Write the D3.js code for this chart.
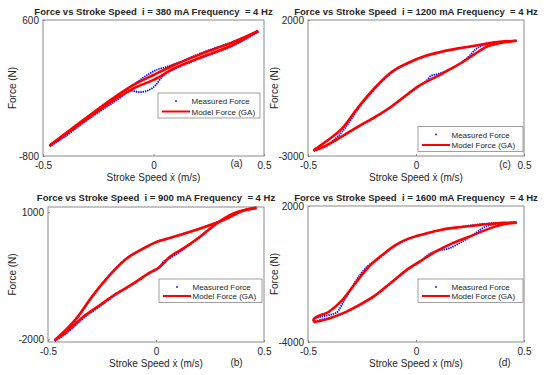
<!DOCTYPE html>
<html>
<head>
<meta charset="utf-8">
<script src="https://cdn.jsdelivr.net/npm/d3@7"></script>
<style>
  body { margin: 0; background: #fff; }
  text { font-family: "Liberation Sans", Arial, sans-serif; fill: #262626; }
</style>
</head>
<body>
<svg id="chart" width="550" height="375"></svg>
<script>
// panel order: (a) 380 mA, (b) 900 mA, (c) 1200 mA, (d) 1600 mA
const currents = ['380', '900', '1200', '1600'];
const panelTags = ['(a)', '(b)', '(c)', '(d)'];
const seriesNames = ['Measured Force', 'Model Force (GA)'];
const speedTicks = [-0.5, 0, 0.5];
const forceTicks = [[-800, 600], [-2000, 1000], [-3000, 2000], [-4000, 2000]];
const forceLimits = [[-800, 600], [-2065, 1120], [-3000, 2000], [-4000, 2000]];

// [speed m/s, force N]
const modelUpA = [[-0.47,-693],[-0.318,-430],[-0.167,-180],[-0.09,-69],[0,34],[0.094,137],[0.215,250],[0.366,377],[0.474,487]];
const modelLowA = [[-0.47,-693],[-0.318,-446],[-0.167,-206],[-0.09,-103],[0,-17],[0.094,103],[0.215,216],[0.366,350],[0.474,487]];
const measUpA = [[-0.47,-700],[-0.4,-590],[-0.318,-440],[-0.167,-190],[-0.09,-65],[-0.03,30],[0.015,88],[0.05,112],[0.094,145],[0.215,258],[0.366,382],[0.474,480]];
const measLowA = [[-0.47,-700],[-0.4,-600],[-0.318,-458],[-0.167,-228],[-0.1,-130],[-0.06,-142],[-0.02,-120],[0.01,-70],[0.037,10],[0.07,70],[0.094,95],[0.215,208],[0.366,343],[0.474,480]];

const modelUpB = [[-0.469,-2025],[-0.369,-1514],[-0.292,-964],[-0.215,-493],[-0.137,-100],[-0.06,136],[0.002,293],[0.079,411],[0.202,607],[0.326,843],[0.403,1030],[0.465,1100]];
const modelLowB = [[-0.469,-2025],[-0.415,-1829],[-0.338,-1475],[-0.261,-1200],[-0.184,-925],[-0.106,-689],[-0.029,-430],[0.017,-296],[0.063,-61],[0.125,136],[0.202,411],[0.279,725],[0.356,961],[0.465,1100]];
const measUpB = [[-0.469,-2040],[-0.369,-1530],[-0.292,-975],[-0.215,-480],[-0.137,-90],[-0.06,140],[0.002,300],[0.079,418],[0.202,612],[0.326,850],[0.403,1035],[0.465,1095]];
const measLowB = [[-0.469,-2040],[-0.415,-1860],[-0.338,-1510],[-0.261,-1225],[-0.184,-945],[-0.106,-700],[-0.029,-440],[0.01,-330],[0.035,-170],[0.063,-90],[0.09,-10],[0.125,120],[0.202,400],[0.279,715],[0.356,955],[0.465,1095]];

const modelUpC = [[-0.474,-2791],[-0.42,-2484],[-0.343,-1993],[-0.266,-1194],[-0.189,-482],[-0.112,96],[-0.035,428],[0.042,673],[0.118,833],[0.195,956],[0.272,1054],[0.349,1165],[0.465,1238]];
const modelLowC = [[-0.474,-2791],[-0.42,-2631],[-0.343,-2275],[-0.266,-1907],[-0.189,-1563],[-0.112,-1170],[-0.035,-703],[0.011,-432],[0.088,-113],[0.149,157],[0.211,428],[0.272,747],[0.334,1042],[0.395,1165],[0.465,1238]];
const measUpC = [[-0.474,-2800],[-0.43,-2690],[-0.39,-2480],[-0.343,-2120],[-0.3,-1650],[-0.266,-1250],[-0.189,-520],[-0.112,60],[-0.035,410],[0.042,665],[0.118,828],[0.195,950],[0.272,1050],[0.349,1160],[0.465,1230]];
const measLowC = [[-0.474,-2800],[-0.42,-2640],[-0.343,-2290],[-0.266,-1925],[-0.189,-1580],[-0.112,-1185],[-0.035,-720],[0.011,-450],[0.05,-220],[0.07,-50],[0.1,10],[0.149,150],[0.211,440],[0.25,700],[0.272,894],[0.303,1042],[0.334,1115],[0.395,1180],[0.465,1230]];

const modelUpD = [[-0.476,-3030],[-0.47,-2950],[-0.405,-2676],[-0.343,-2162],[-0.282,-1426],[-0.22,-691],[-0.158,-176],[-0.097,265],[-0.035,559],[0.042,779],[0.118,956],[0.211,1074],[0.303,1176],[0.395,1250],[0.465,1265]];
const modelLowD = [[-0.476,-3030],[-0.47,-3110],[-0.405,-2971],[-0.343,-2750],[-0.266,-2382],[-0.189,-1941],[-0.112,-1353],[-0.035,-765],[0.026,-397],[0.088,-29],[0.165,338],[0.242,632],[0.318,926],[0.395,1176],[0.465,1265]];
const measUpD = [[-0.476,-3030],[-0.47,-2980],[-0.42,-2850],[-0.366,-2690],[-0.34,-2300],[-0.3,-1650],[-0.26,-1050],[-0.22,-620],[-0.18,-380],[-0.14,-50],[-0.097,240],[-0.035,550],[0.042,770],[0.118,950],[0.211,1085],[0.303,1200],[0.395,1262],[0.465,1270]];
const measLowD = [[-0.476,-3030],[-0.47,-3090],[-0.44,-3020],[-0.405,-2950],[-0.343,-2760],[-0.266,-2400],[-0.189,-1960],[-0.112,-1370],[-0.035,-780],[0.026,-400],[0.057,-150],[0.103,29],[0.149,118],[0.211,412],[0.272,779],[0.318,1074],[0.365,1190],[0.465,1270]];

const modelUp = [modelUpA, modelUpB, modelUpC, modelUpD];
const modelLow = [modelLowA, modelLowB, modelLowC, modelLowD];
const measUp = [measUpA, measUpB, measUpC, measUpD];
const measLow = [measLowA, measLowB, measLowC, measLowD];

// plot boxes and decorations, in pixels
const layout = [
  { x0: 43, x1: 264, y0: 20, y1: 156, titleY: 14.5, yLab: 12, leg: [158, 93, 102, 25], tag: [236.5, 163] },
  { x0: 48, x1: 264, y0: 207, y1: 342, titleY: 200.5, yLab: 12, leg: [159, 279, 103, 23.5], tag: [236.5, 362] },
  { x0: 308, x1: 524, y0: 20, y1: 156, titleY: 14.5, yLab: 274, leg: [418, 126.5, 105, 25], tag: [505, 164] },
  { x0: 308, x1: 524, y0: 206, y1: 342, titleY: 200.5, yLab: 274, leg: [418, 279, 105, 23.5], tag: [504.5, 362.5] }
];

const svg = d3.select('#chart');
const axisGray = '#8a8a8a';

layout.forEach((p, i) => {
  const x = d3.scaleLinear().domain([-0.5, 0.5]).range([p.x0, p.x1]);
  const y = d3.scaleLinear().domain(forceLimits[i]).range([p.y1, p.y0]);
  const g = svg.append('g');

  g.append('rect')
    .attr('x', p.x0).attr('y', p.y0)
    .attr('width', p.x1 - p.x0).attr('height', p.y1 - p.y0)
    .attr('fill', '#fff').attr('stroke', axisGray).attr('stroke-width', 1);

  const xAxis = g.append('g')
    .attr('transform', `translate(0,${p.y1})`)
    .call(d3.axisBottom(x).tickValues(speedTicks).tickSize(-2).tickPadding(6)
      .tickFormat(d => String(d)));
  const yAxis = g.append('g')
    .attr('transform', `translate(${p.x0},0)`)
    .call(d3.axisLeft(y).tickValues(forceTicks[i]).tickSize(-2).tickPadding(4)
      .tickFormat(d => String(d)));
  [xAxis, yAxis].forEach(a => {
    a.select('.domain').remove();
    a.selectAll('line').attr('stroke', axisGray);
    a.selectAll('text').style('font-size', '10px').attr('fill', '#262626');
  });

  const line = d3.line().x(d => x(d[0])).y(d => y(d[1])).curve(d3.curveMonotoneX);

  [measUp[i], measLow[i]].forEach(s => {
    g.append('path').attr('d', line(s))
      .attr('fill', 'none').attr('stroke', '#0000ff')
      .attr('stroke-width', 1.8).attr('stroke-dasharray', '1.4 0.9');
  });
  [modelUp[i], modelLow[i]].forEach(s => {
    g.append('path').attr('d', line(s))
      .attr('fill', 'none').attr('stroke', '#ff0000')
      .attr('stroke-width', 2.6).attr('stroke-linejoin', 'round');
  });

  g.append('text')
    .attr('x', (p.x0 + p.x1) / 2).attr('y', p.titleY)
    .attr('text-anchor', 'middle')
    .style('font-size', '9.5px').style('font-weight', 'bold').style('white-space', 'pre')
    .attr('fill', '#000')
    .text(`Force vs Stroke Speed  i = ${currents[i]} mA Frequency  = 4 Hz`);

  g.append('text')
    .attr('x', (p.x0 + p.x1) / 2).attr('y', p.y1 + 24.5)
    .attr('text-anchor', 'middle').style('font-size', '10px')
    .text('Stroke Speed \u1E8B (m/s)');

  g.append('text')
    .attr('transform', `translate(${p.yLab + 3.5},${(p.y0 + p.y1) / 2}) rotate(-90)`)
    .attr('text-anchor', 'middle').style('font-size', '10px')
    .text('Force (N)');

  g.append('text')
    .attr('x', p.tag[0]).attr('y', p.tag[1] + 3.5)
    .attr('text-anchor', 'middle').style('font-size', '10px')
    .text(panelTags[i]);

  // legend
  const [lx, ly, lw, lh] = p.leg;
  const leg = g.append('g');
  leg.append('rect').attr('x', lx).attr('y', ly).attr('width', lw).attr('height', lh)
    .attr('fill', '#fff').attr('stroke', axisGray).attr('stroke-width', 0.8);
  const rowY = [ly + 8, ly + lh - 6.5];
  leg.append('rect').attr('x', lx + 17.2).attr('y', rowY[0] - 0.8)
    .attr('width', 1.6).attr('height', 1.6).attr('fill', '#0000ff');
  leg.append('line').attr('x1', lx + 4).attr('x2', lx + 32)
    .attr('y1', rowY[1]).attr('y2', rowY[1])
    .attr('stroke', '#ff0000').attr('stroke-width', 2);
  seriesNames.forEach((name, k) => {
    leg.append('text').attr('x', lx + 33.5).attr('y', rowY[k] + 3)
      .style('font-size', '8px').text(name);
  });
});
</script>
</body>
</html>
